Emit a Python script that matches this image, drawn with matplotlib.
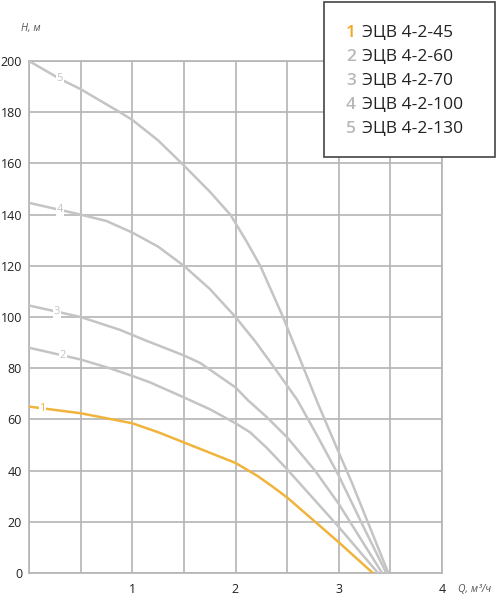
import matplotlib.pyplot as plt
from matplotlib.patches import Rectangle

plt.rcParams['font.family'] = ['Open Sans', 'DejaVu Sans']

# напорно-расходные характеристики (Q, м3/ч ; H, м)
q1 = [0, 0.5, 1, 1.25, 1.5, 2, 2.21, 2.35, 2.5, 3, 3.33]
h1 = [65, 62.4, 58.5, 55, 51, 43, 38, 34, 29.5, 12, 0]

q2 = [0, 0.5, 0.78, 1, 1.17, 1.5, 1.75, 2, 2.14, 2.3, 2.5, 3, 3.38]
h2 = [88, 83.4, 80, 77, 74.5, 68.6, 64, 58.5, 55, 49, 40.5, 18, 0]

q3 = [0, 0.5, 0.88, 1.12, 1.5, 1.66, 2, 2.12, 2.3, 2.5, 2.77, 3, 3.42]
h3 = [104.5, 100, 95, 91, 85, 82, 72.5, 67.5, 61, 53, 40, 27, 0]

q4 = [0, 0.5, 0.75, 1, 1.25, 1.5, 1.75, 2, 2.2, 2.38, 2.6, 2.8, 3, 3.24, 3.46]
h4 = [144.6, 140, 137.5, 133, 127.5, 120, 111, 100, 90, 80, 67.5, 53, 38, 18, 0]

q5 = [0, 0.3, 0.5, 0.88, 1, 1.25, 1.48, 1.75, 1.95, 2.1, 2.24, 2.35, 2.46, 2.64, 2.8, 2.98, 3.13, 3.28, 3.48]
h5 = [200, 193, 189, 180, 177, 169, 160, 149, 140, 130, 120, 110, 100, 82, 66, 49, 35, 20, 0]

names = ['ЭЦВ 4-2-45', 'ЭЦВ 4-2-60', 'ЭЦВ 4-2-70', 'ЭЦВ 4-2-100', 'ЭЦВ 4-2-130']
label_q = [0.13, 0.33, 0.27, 0.3, 0.3]  # где стоит номер на кривой

orange = '#f0b43c'
gray = '#c4c4c4'
colors = [orange, gray, gray, gray, gray]

fig = plt.figure(figsize=(4.99, 6.0), dpi=100)
ax = fig.add_axes([29 / 499, 1 - 573 / 600, 413 / 499, 512 / 600])

curves = [(q1, h1), (q2, h2), (q3, h3), (q4, h4), (q5, h5)]
for i, (q, h) in enumerate(curves):
    ax.plot(q, h, color=colors[i], lw=1.8, solid_capstyle='round',
            solid_joinstyle='round', zorder=3)
    # номер кривой на белой подложке
    lq = label_q[i]
    lh = None
    for j in range(len(q) - 1):
        if q[j] <= lq <= q[j + 1]:
            lh = h[j] + (h[j + 1] - h[j]) * (lq - q[j]) / (q[j + 1] - q[j])
    ax.text(lq, lh, str(i + 1), color=colors[i], fontsize=8, ha='center', va='center',
            zorder=4, bbox=dict(boxstyle='square,pad=0.05', fc='white', ec='none'))

ax.set_xlim(0, 4)
ax.set_ylim(0, 200)
ax.set_xticks([0.5 * k for k in range(9)])
ax.set_xticklabels(['', '', '1', '', '2', '', '3', '', '4'])
ax.set_yticks(range(0, 201, 20))
ax.grid(True, color='#b4b4b4', lw=1.2, zorder=1)
ax.tick_params(length=0, labelsize=9, labelcolor='#222222', pad=5)
ax.tick_params(axis='x', pad=7)
for s in ax.spines.values():
    s.set_color('#b4b4b4')
    s.set_linewidth(1.2)

fig.text(21 / 499, 1 - 28 / 600, 'H, м', fontsize=7.5, style='italic', color='#555555',
         ha='left', va='center')
fig.text(458 / 499, 1 - 589 / 600, 'Q, м³/ч', fontsize=7.5, style='italic', color='#555555',
         ha='left', va='center')

# легенда-рамка
fig.add_artist(Rectangle((324 / 499, 1 - 157 / 600), 171 / 499, 155 / 600,
                         transform=fig.transFigure, fc='white', ec='#444444', lw=1.2, zorder=5))
for i, n in enumerate(names):
    y = 1 - (33 + 24 * i) / 600
    fig.text(346 / 499, y, str(i + 1), color='#f0a820' if i == 0 else '#b8b8b8',
             fontsize=12.5, fontweight='semibold', ha='left', va='center', zorder=6)
    fig.text(362 / 499, y, n, color='#222222', fontsize=12.5, ha='left', va='center', zorder=6)

fig.savefig('out.png', dpi=100)
